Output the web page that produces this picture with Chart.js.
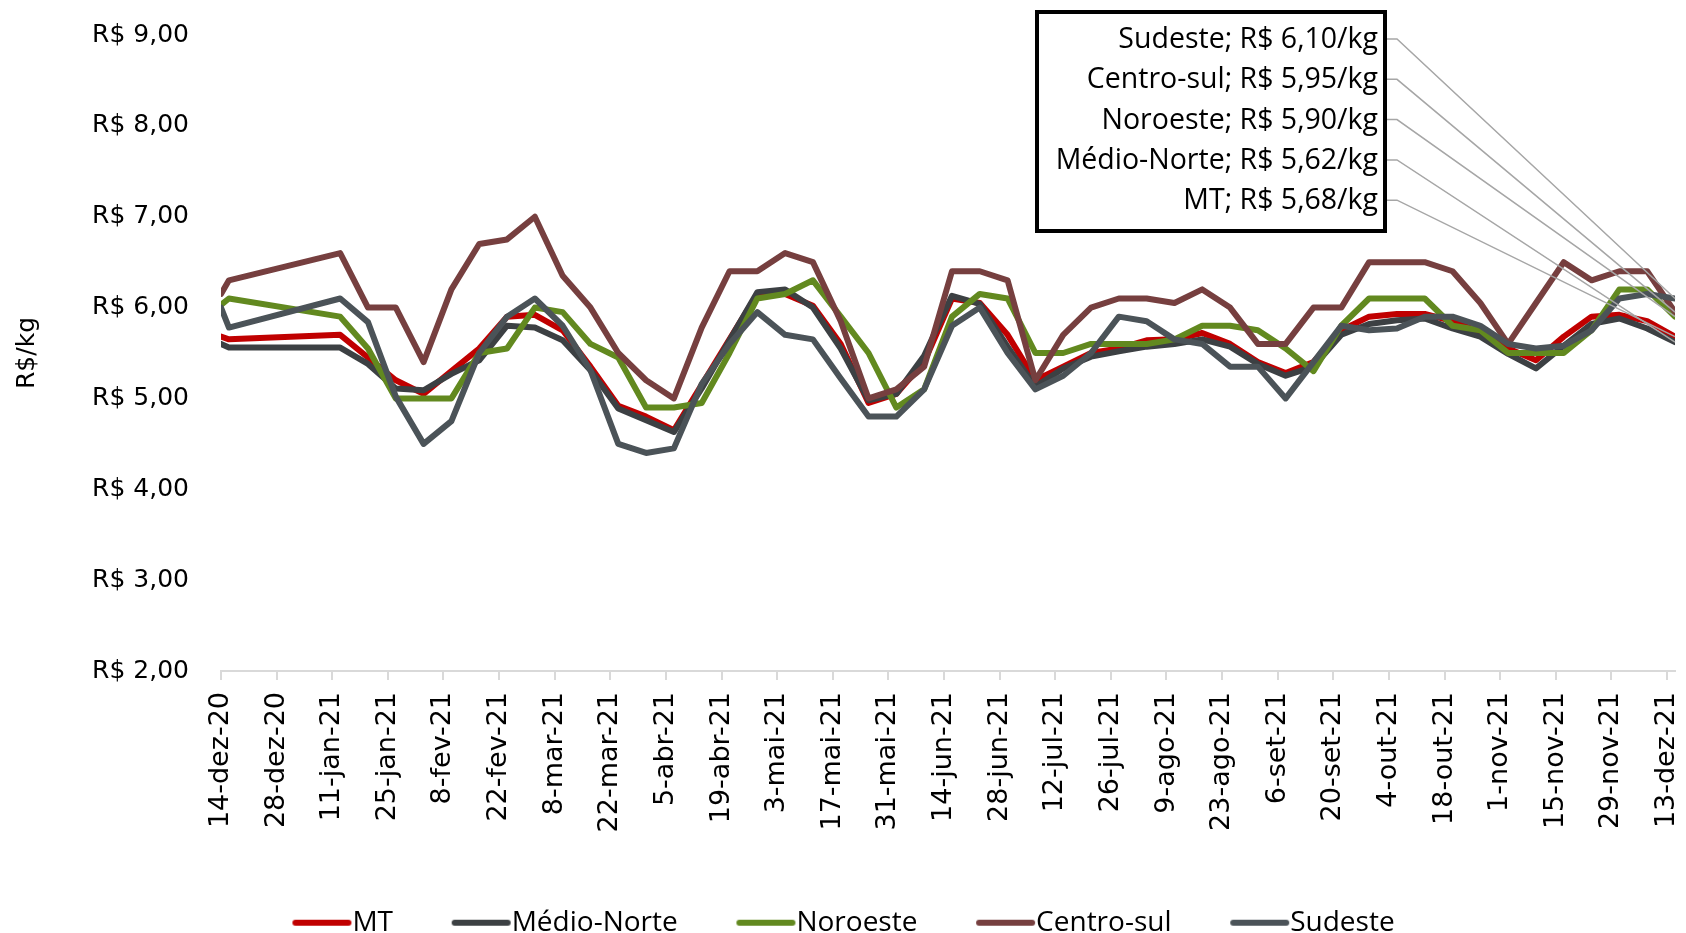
<!DOCTYPE html>
<html>
<head>
<meta charset="utf-8">
<script src="https://cdn.jsdelivr.net/npm/chart.js@4.4.1/dist/chart.umd.min.js"></script>
<style>
  html, body { margin: 0; padding: 0; background: #ffffff; }
  #wrap { width: 1686px; height: 933px; position: relative; }
</style>
</head>
<body>
<div id="wrap"><canvas id="c" width="1686" height="933"></canvas></div>
<script>
// ---- data ----
const dates = ['14-dez-20','16-dez-20','23-dez-20','30-dez-20','6-jan-21','13-jan-21','20-jan-21','27-jan-21','3-fev-21','10-fev-21','17-fev-21','24-fev-21','3-mar-21','10-mar-21','17-mar-21','24-mar-21','31-mar-21','7-abr-21','14-abr-21','21-abr-21','28-abr-21','5-mai-21','12-mai-21','19-mai-21','26-mai-21','2-jun-21','9-jun-21','16-jun-21','23-jun-21','30-jun-21','7-jul-21','14-jul-21','21-jul-21','28-jul-21','4-ago-21','11-ago-21','18-ago-21','25-ago-21','1-set-21','8-set-21','15-set-21','22-set-21','29-set-21','6-out-21','13-out-21','20-out-21','27-out-21','3-nov-21','10-nov-21','17-nov-21','24-nov-21','1-dez-21','8-dez-21','15-dez-21'];

const MT = [5.68, 5.65, null, null, null, 5.70, 5.45, 5.20, 5.05, 5.30, 5.55, 5.90, 5.92, 5.75, 5.35, 4.92, 4.80, 4.65, 5.15, 5.65, 6.15, 6.15, 6.02, 5.60, 4.95, 5.05, 5.40, 6.10, 6.05, 5.70, 5.20, 5.35, 5.50, 5.55, 5.64, 5.65, 5.72, 5.60, 5.40, 5.28, 5.40, 5.75, 5.90, 5.93, 5.93, 5.85, 5.73, 5.55, 5.42, 5.68, 5.90, 5.92, 5.85, 5.68];
const medioNorte = [5.60, 5.56, null, null, null, 5.56, 5.38, 5.11, 5.09, 5.27, 5.42, 5.80, 5.78, 5.64, 5.31, 4.89, 4.76, 4.63, 5.11, 5.64, 6.17, 6.20, 6.00, 5.55, 4.98, 5.05, 5.47, 6.13, 6.04, 5.57, 5.13, 5.33, 5.46, 5.52, 5.57, 5.60, 5.65, 5.57, 5.38, 5.25, 5.35, 5.70, 5.82, 5.86, 5.88, 5.77, 5.68, 5.49, 5.33, 5.58, 5.82, 5.88, 5.77, 5.62];
const noroeste = [6.03, 6.10, null, null, null, 5.90, 5.55, 5.00, 5.00, 5.00, 5.50, 5.55, 6.00, 5.95, 5.60, 5.45, 4.90, 4.90, 4.95, 5.50, 6.10, 6.15, 6.30, 5.90, 5.50, 4.90, 5.10, 5.90, 6.15, 6.10, 5.50, 5.50, 5.60, 5.60, 5.60, 5.65, 5.80, 5.80, 5.75, 5.55, 5.30, 5.80, 6.10, 6.10, 6.10, 5.80, 5.75, 5.50, 5.50, 5.50, 5.75, 6.20, 6.20, 5.90];
const centroSul = [6.15, 6.30, null, null, null, 6.60, 6.00, 6.00, 5.40, 6.20, 6.70, 6.75, 7.00, 6.35, 6.00, 5.50, 5.20, 5.00, 5.78, 6.40, 6.40, 6.60, 6.50, 5.85, 5.00, 5.10, 5.35, 6.40, 6.40, 6.30, 5.20, 5.70, 6.00, 6.10, 6.10, 6.05, 6.20, 6.00, 5.60, 5.60, 6.00, 6.00, 6.50, 6.50, 6.50, 6.40, 6.05, 5.60, 6.05, 6.50, 6.30, 6.40, 6.40, 5.95];
const sudeste = [6.00, 5.78, null, null, null, 6.10, 5.84, 5.02, 4.50, 4.75, 5.50, 5.90, 6.10, 5.80, 5.31, 4.50, 4.40, 4.45, 5.16, 5.60, 5.95, 5.70, 5.65, 5.22, 4.80, 4.80, 5.10, 5.80, 6.00, 5.50, 5.10, 5.25, 5.50, 5.90, 5.85, 5.65, 5.60, 5.35, 5.35, 5.00, 5.40, 5.80, 5.75, 5.77, 5.90, 5.90, 5.80, 5.60, 5.55, 5.58, 5.75, 6.10, 6.15, 6.10];

const tickLabels = ['14-dez-20','28-dez-20','11-jan-21','25-jan-21','8-fev-21','22-fev-21','8-mar-21','22-mar-21','5-abr-21','19-abr-21','3-mai-21','17-mai-21','31-mai-21','14-jun-21','28-jun-21','12-jul-21','26-jul-21','9-ago-21','23-ago-21','6-set-21','20-set-21','4-out-21','18-out-21','1-nov-21','15-nov-21','29-nov-21','13-dez-21'];
const axisStart = '14-dez-20';
const axisEnd = '15-dez-21';
const yTicks = [2, 3, 4, 5, 6, 7, 8, 9];

const seriesNames = ['MT', 'Médio-Norte', 'Noroeste', 'Centro-sul', 'Sudeste'];
const seriesData = [MT, medioNorte, noroeste, centroSul, sudeste];
const seriesColors = ['#c00000', '#3c4043', '#62891f', '#763f3f', '#4b5358'];
const calloutOrder = ['Sudeste', 'Centro-sul', 'Noroeste', 'Médio-Norte', 'MT'];

// ---- helpers ----
const months = {jan:0,fev:1,mar:2,abr:3,mai:4,jun:5,jul:6,ago:7,set:8,out:9,nov:10,dez:11};
function toUTC(s) {
  const p = s.split('-');
  return Date.UTC(2000 + parseInt(p[2], 10), months[p[1]], parseInt(p[0], 10));
}
const t0 = toUTC(axisStart);
function dayOf(s) { return Math.round((toUTC(s) - t0) / 86400000); }
const xDays = dates.map(dayOf);

function fmtBRL(v) { return 'R$ ' + v.toFixed(2).replace('.', ','); }

// legend marker: line drawn in the right part of the image so it sits next to the text
function legendMarker(color) {
  const c = document.createElement('canvas');
  c.width = 86; c.height = 10;
  const g = c.getContext('2d');
  g.strokeStyle = color;
  g.lineWidth = 6;
  g.lineCap = 'round';
  g.beginPath();
  g.moveTo(29, 5);
  g.lineTo(82, 5);
  g.stroke();
  return c;
}

Chart.defaults.font.family = '"DejaVu Sans", sans-serif';
Chart.defaults.color = '#000000';

const datasets = seriesNames.map((name, i) => ({
  label: name,
  data: seriesData[i].map((v, j) => ({x: xDays[j], y: v})),
  borderColor: seriesColors[i],
  backgroundColor: seriesColors[i],
  borderWidth: 6,
  pointRadius: 0,
  pointHoverRadius: 0,
  pointStyle: legendMarker(seriesColors[i]),
  pointBorderColor: seriesColors[i],
  pointBorderWidth: 6,
  tension: 0,
  spanGaps: true,
  borderJoinStyle: 'round',
  borderCapStyle: 'round',
  order: seriesNames.length - i
}));

const calloutPlugin = {
  id: 'callouts',
  afterDatasetsDraw(chart) {
    const ctx = chart.ctx;
    const xs = chart.scales.x, ys = chart.scales.y;
    const box = {left: 1037, top: 12, right: 1385, bottom: 231};
    const rowTop = 39, rowStep = 40.3;
    ctx.save();
    ctx.strokeStyle = '#a6a6a6';
    ctx.lineWidth = 1.5;
    calloutOrder.forEach((name, r) => {
      const idx = seriesNames.indexOf(name);
      const arr = seriesData[idx];
      const last = arr.length - 1;
      const px = xs.getPixelForValue(xDays[last]);
      const py = ys.getPixelForValue(arr[last]);
      const ry = rowTop + r * rowStep;
      ctx.beginPath();
      ctx.moveTo(box.right + 2, ry);
      ctx.lineTo(box.right + 12, ry);
      ctx.lineTo(px, py);
      ctx.stroke();
    });
    ctx.fillStyle = '#ffffff';
    ctx.fillRect(box.left, box.top, box.right - box.left, box.bottom - box.top);
    ctx.strokeStyle = '#000000';
    ctx.lineWidth = 4;
    ctx.strokeRect(box.left, box.top, box.right - box.left, box.bottom - box.top);
    ctx.fillStyle = '#000000';
    ctx.font = '28.5px "Open Sans", sans-serif';
    ctx.textAlign = 'right';
    ctx.textBaseline = 'middle';
    calloutOrder.forEach((name, r) => {
      const idx = seriesNames.indexOf(name);
      const arr = seriesData[idx];
      const v = arr[arr.length - 1];
      const ry = rowTop + r * rowStep;
      ctx.fillText(name + '; ' + fmtBRL(v) + '/kg', 1378, ry + 1);
    });
    ctx.restore();
  }
};

new Chart(document.getElementById('c'), {
  type: 'line',
  data: { datasets },
  plugins: [calloutPlugin],
  options: {
    responsive: false,
    animation: false,
    events: [],
    layout: { padding: { left: 0, right: 11, top: 35, bottom: 0 } },
    plugins: {
      tooltip: { enabled: false },
      legend: {
        position: 'bottom',
        maxHeight: 71,
        labels: {
          usePointStyle: true,
          pointStyleWidth: 58,
          padding: 46.7,
          color: '#000000',
          font: { family: '"Open Sans", sans-serif', size: 28 },
          sort: (a, b) => a.datasetIndex - b.datasetIndex
        }
      }
    },
    scales: {
      x: {
        type: 'linear',
        min: dayOf(axisStart),
        max: dayOf(axisEnd),
        afterBuildTicks: (scale) => {
          scale.ticks = tickLabels.map(l => ({ value: dayOf(l) }));
        },
        afterFit: (scale) => {
          scale.height = 191;
          scale.paddingLeft = 0;
          scale.paddingRight = 0;
        },
        ticks: {
          autoSkip: false,
          maxRotation: 90,
          minRotation: 90,
          padding: 12,
          color: '#000000',
          font: { size: 27 },
          callback: (v, i) => tickLabels[i]
        },
        grid: {
          drawOnChartArea: false,
          drawTicks: true,
          tickLength: 9,
          color: '#d9d9d9',
          lineWidth: 2
        },
        border: { display: true, color: '#d9d9d9', width: 2 }
      },
      y: {
        min: yTicks[0],
        max: yTicks[yTicks.length - 1],
        afterBuildTicks: (scale) => {
          scale.ticks = yTicks.map(v => ({ value: v }));
        },
        afterFit: (scale) => {
          scale.width = 221;
          scale.paddingTop = 0;
          scale.paddingBottom = 0;
        },
        ticks: {
          padding: 32,
          color: '#000000',
          font: { size: 25 },
          callback: (v) => fmtBRL(v)
        },
        grid: { display: false, drawTicks: false },
        border: { display: false },
        title: {
          display: true,
          text: 'R$/kg',
          color: '#000000',
          font: { size: 25 },
          padding: { top: 12, bottom: 0 }
        }
      }
    }
  }
});
</script>
</body>
</html>
